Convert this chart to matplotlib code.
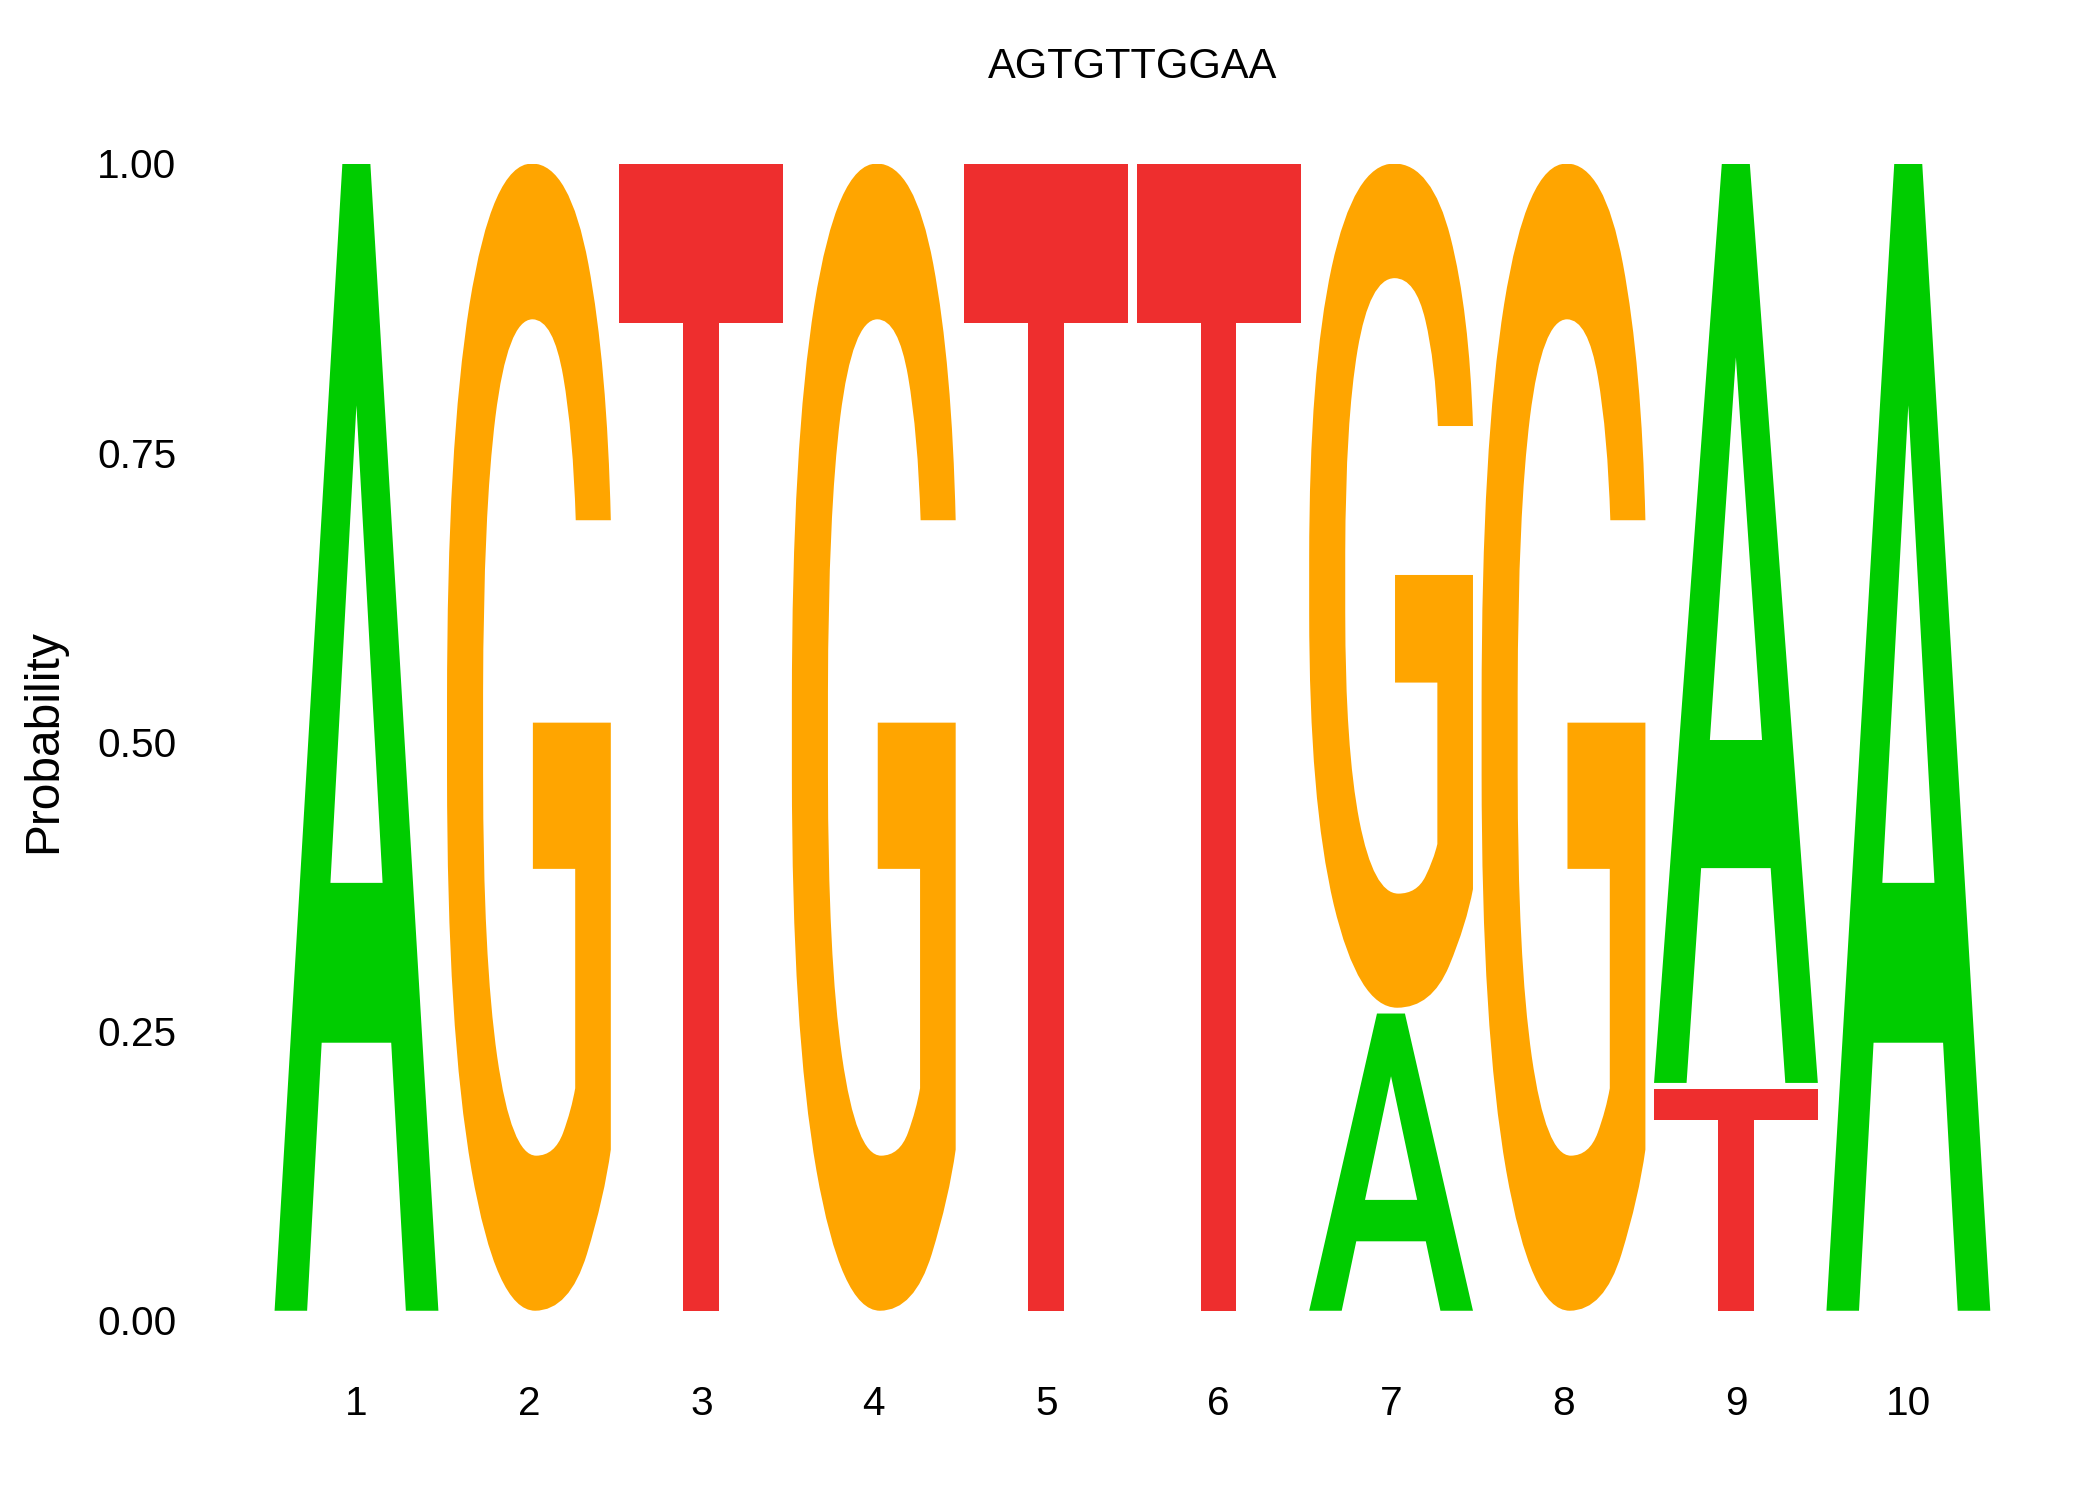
import numpy as np
import matplotlib
matplotlib.use('Agg')
import matplotlib.pyplot as plt
from matplotlib.textpath import TextPath
from matplotlib.font_manager import FontProperties
from matplotlib.patches import PathPatch
from matplotlib.transforms import Affine2D

plt.rcParams['font.family'] = ['Liberation Sans', 'DejaVu Sans']

# probability matrix read from the logo (C never appears)
positions = [1, 2, 3, 4, 5, 6, 7, 8, 9, 10]
prob_A = [1.00, 0.00, 0.00, 0.00, 0.00, 0.00, 0.265, 0.00, 0.80, 1.00]
prob_C = [0.00, 0.00, 0.00, 0.00, 0.00, 0.00, 0.000, 0.00, 0.00, 0.00]
prob_G = [0.00, 1.00, 0.00, 1.00, 0.00, 0.00, 0.735, 1.00, 0.00, 0.00]
prob_T = [0.00, 0.00, 1.00, 0.00, 1.00, 1.00, 0.000, 0.00, 0.20, 0.00]
consensus = 'AGTGTTGGAA'

colors = {'A': '#00CC00', 'C': '#0000EE', 'G': '#FFA500', 'T': '#EE2E2E'}
letter_fp = FontProperties(family='Roboto', weight='medium')


def draw_letter(ax, ch, x, y0, y1, color, width=0.95):
    # glyph outline stretched to fill its box
    tp = TextPath((0, 0), ch, size=1, prop=letter_fp)
    bb = tp.get_extents()
    tr = (Affine2D().translate(-bb.x0, -bb.y0)
          .scale(width / bb.width, (y1 - y0) / bb.height)
          .translate(x - width / 2, y0))
    ax.add_patch(PathPatch(tr.transform_path(tp), fc=color, ec='none', lw=0))


fig = plt.figure(figsize=(14, 10), dpi=150)
ax = fig.add_axes([0.1287, 0.120, 0.8211, 0.771])

probs = {'A': prob_A, 'C': prob_C, 'G': prob_G, 'T': prob_T}
for i, pos in enumerate(positions):
    col = sorted([(probs[b][i], b) for b in 'ACGT' if probs[b][i] > 0])
    base = 0.0
    for h, b in col:
        gap = 0.008 if base == 0 else 0.005
        draw_letter(ax, b, pos, base + gap, base + h, colors[b])
        base += h

ax.set_xlim(0.5, 10.5)
ax.set_ylim(0, 1)
ax.set_xticks(positions)
ax.set_xticklabels([str(p) for p in positions])
ax.set_yticks([0, 0.25, 0.5, 0.75, 1.0])
ax.set_yticklabels(['0.00', '0.25', '0.50', '0.75', '1.00'])
ax.tick_params(axis='both', length=0, labelsize=19.5)
ax.tick_params(axis='y', pad=45)
ax.tick_params(axis='x', pad=31)
for s in ax.spines.values():
    s.set_visible(False)

fig.text(0.021, 0.506, 'Probability', rotation=90, ha='center', va='center', fontsize=23)
fig.text(0.1287 + 0.8211 / 2, 0.955, consensus, ha='center', va='center', fontsize=20)

fig.savefig('out.png', dpi=150)
